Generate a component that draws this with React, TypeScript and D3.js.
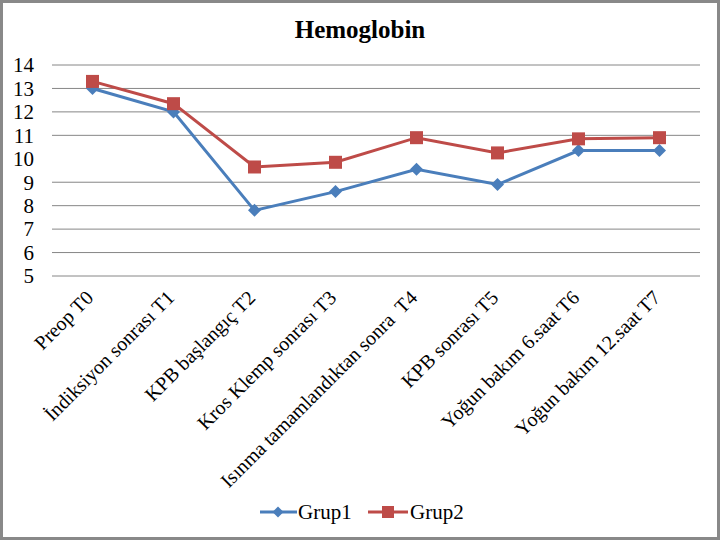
import { scaleLinear, scalePoint, line } from 'd3'

// Hemoglobin — Grup1 / Grup2 ölçüm zamanlarına göre çizgi grafiği

const categories = [
  'Preop T0',
  'İndiksiyon sonrası T1',
  'KPB başlangıç T2',
  'Kros Klemp sonrası T3',
  'Isınma tamamlandıktan sonra  T4',
  'KPB sonrası T5',
  'Yoğun bakım 6.saat T6',
  'Yoğun bakım 12.saat T7',
]
const grup1 = [13.0, 12.0, 7.8, 8.6, 9.55, 8.9, 10.35, 10.35]
const grup2 = [13.3, 12.35, 9.65, 9.85, 10.9, 10.25, 10.85, 10.9]
const yTicks = [5, 6, 7, 8, 9, 10, 11, 12, 13, 14]

const W = 720
const H = 540
const PLOT = { left: 52, right: 700, top: 65, bottom: 276 }
const BLUE = '#4A7EBB'
const RED = '#BE4B48'
const FONT = "'Liberation Serif', 'Times New Roman', 'DejaVu Serif', serif"
const txt = { fontFamily: FONT }

export default function App() {
  const x = scalePoint<string>()
    .domain(categories)
    .range([PLOT.left, PLOT.right])
    .padding(0.5)
  const y = scaleLinear().domain([5, 14]).range([PLOT.bottom, PLOT.top])

  const path = line<number>()
    .x((_, i) => x(categories[i]) ?? 0)
    .y((d) => y(d))

  const diamond = (cx: number, cy: number, r: number) =>
    `M${cx},${cy - r}L${cx + r},${cy}L${cx},${cy + r}L${cx - r},${cy}Z`

  return (
    <svg
      width={W}
      height={H}
      viewBox={`0 0 ${W} ${H}`}
      style={{ position: 'absolute', left: 0, top: 0, background: '#fff' }}
    >
      <rect x={1.5} y={1.5} width={W - 3} height={H - 3} fill="#fff" stroke="#898989" strokeWidth={3} />

      <text x={360} y={38} textAnchor="middle" fontSize={25} fontWeight="bold" style={txt}>
        Hemoglobin
      </text>

      {/* grid + y axis labels (10 çizgisi referansta görünmüyor) */}
      {yTicks.map((t) => (
        <g key={t}>
          {t !== 10 && (
            <line x1={PLOT.left} x2={PLOT.right} y1={y(t)} y2={y(t)} stroke="#868686" strokeWidth={1} />
          )}
          <text x={34} y={y(t)} dy="0.35em" textAnchor="end" fontSize={21} style={txt}>
            {t}
          </text>
        </g>
      ))}

      {/* category labels */}
      {categories.map((c) => {
        const cx = (x(c) ?? 0) + 2
        const cy = 299
        return (
          <text
            key={c}
            x={cx}
            y={cy}
            textAnchor="end"
            fontSize={20}
            transform={`rotate(-45, ${cx}, ${cy})`}
            style={{ ...txt, whiteSpace: 'pre' }}
          >
            {c}
          </text>
        )
      })}

      {/* series */}
      <path d={path(grup1) ?? ''} fill="none" stroke={BLUE} strokeWidth={3} />
      <path d={path(grup2) ?? ''} fill="none" stroke={RED} strokeWidth={3} />
      {grup1.map((v, i) => (
        <path key={`g1-${i}`} d={diamond(x(categories[i]) ?? 0, y(v), 6.5)} fill={BLUE} />
      ))}
      {grup2.map((v, i) => (
        <rect key={`g2-${i}`} x={(x(categories[i]) ?? 0) - 6.5} y={y(v) - 6.5} width={13} height={13} fill={RED} />
      ))}

      {/* legend */}
      <g>
        <line x1={260} x2={297} y1={512} y2={512} stroke={BLUE} strokeWidth={3} />
        <path d={diamond(278, 512, 5.5)} fill={BLUE} />
        <text x={298} y={512} dy="0.35em" fontSize={21} style={txt}>
          Grup1
        </text>
        <line x1={368} x2={408} y1={512} y2={512} stroke={RED} strokeWidth={3} />
        <rect x={382} y={506} width={12} height={12} fill={RED} />
        <text x={410} y={512} dy="0.35em" fontSize={21} style={txt}>
          Grup2
        </text>
      </g>
    </svg>
  )
}
